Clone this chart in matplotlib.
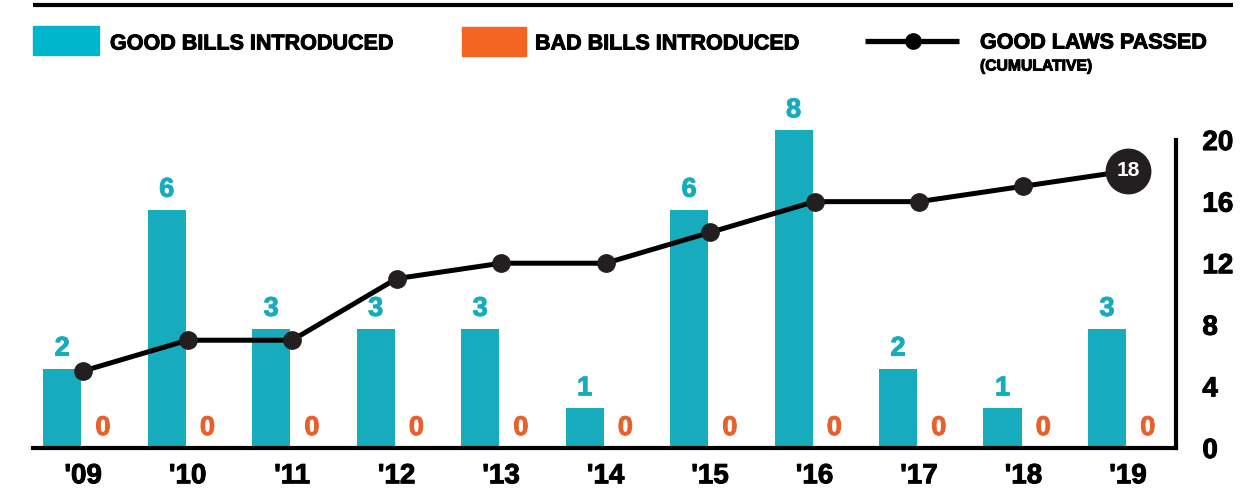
import matplotlib.pyplot as plt
import matplotlib.patheffects as pe
from matplotlib.patches import Rectangle
from matplotlib.lines import Line2D

# data
years = ["'09", "'10", "'11", "'12", "'13", "'14", "'15", "'16", "'17", "'18", "'19"]
good_bills = [2, 6, 3, 3, 3, 1, 6, 8, 2, 1, 3]
bad_bills = [0, 0, 0, 0, 0, 0, 0, 0, 0, 0, 0]
good_laws = [5, 7, 7, 11, 12, 12, 14, 16, 16, 17, 18]

teal = '#17abbe'
teal_legend = '#00b6cc'
orange = '#f26522'
orange_text = '#e8612c'
dark = '#231f20'

plt.rcParams['font.family'] = ['Liberation Sans', 'DejaVu Sans']
plt.rcParams['font.weight'] = 'bold'

W, H = 1246, 488
fig = plt.figure(figsize=(W / 100, H / 100), dpi=100)

def fx(x):
    return x / W

def fy(y):
    return 1 - y / H

# heavier look for the bold text
def heavy(color):
    return [pe.withStroke(linewidth=0.7, foreground=color)]

# axes placed in pixel terms
ax = fig.add_axes([fx(33), fy(448), fx(1176) - fx(33), fy(100) - fy(448)])
ax2 = ax.twinx()

x = list(range(len(years)))
bw = 0.365
ax.bar([i - 0.2 for i in x], good_bills, width=bw, color=teal, zorder=2)
ax.bar([i + 0.2 for i in x], bad_bills, width=bw, color=orange, zorder=2)
ax.set_ylim(0, 8.76)
ax.set_xlim(-0.48, 10.46)

for i, v in enumerate(good_bills):
    ax.annotate(str(v), (i - 0.2, v), xytext=(0, 5), textcoords='offset points',
                ha='center', va='bottom', color=teal, fontsize=19.5, fontweight='bold',
                path_effects=heavy(teal))
for i, v in enumerate(bad_bills):
    ax.annotate(str(v), (i + 0.19, v), xytext=(0, 5), textcoords='offset points',
                ha='center', va='bottom', color=orange_text, fontsize=19.5, fontweight='bold',
                path_effects=heavy(orange_text))

ax2.plot(x, good_laws, color='black', lw=3.6, marker='o', ms=12.5,
         mfc=dark, mec=dark, zorder=5)
ax2.plot(x[-1], good_laws[-1], marker='o', ms=32, color=dark, zorder=6)
ax2.text(x[-1], good_laws[-1], str(good_laws[-1]), color='white', fontsize=15,
         fontweight='bold', ha='center', va='center', zorder=7)
ax2.set_ylim(0, 22.6)
ax2.set_yticks([0, 4, 8, 12, 16, 20])

for a in (ax, ax2):
    for s in ('top', 'left', 'right', 'bottom'):
        a.spines[s].set_visible(False)
ax.spines['bottom'].set_visible(True)
ax.spines['bottom'].set_linewidth(3)
ax.spines['bottom'].set_color('black')
ax2.spines['right'].set_visible(True)
ax2.spines['right'].set_linewidth(3)
ax2.spines['right'].set_bounds(0, 20)

ax.set_yticks([])
ax.set_xticks(x)
ax.set_xticklabels(years, fontsize=20, fontweight='bold')
ax.tick_params(axis='x', length=0, pad=11)
ax2.tick_params(axis='y', length=0, pad=19, labelsize=20)
for t in ax2.get_yticklabels() + ax.get_xticklabels():
    t.set_fontweight('bold')
    t.set_path_effects(heavy('black'))
ax.set_zorder(1)
ax2.set_zorder(2)
ax2.patch.set_visible(False)

# top rule
fig.add_artist(Line2D([fx(33), fx(1233)], [fy(5), fy(5)], color='black', lw=3, solid_capstyle='butt'))

# legend
fig.add_artist(Rectangle((fx(33), fy(55)), fx(99) - fx(33), fy(26) - fy(55), color=teal_legend))
fig.text(fx(110), fy(44), 'GOOD BILLS INTRODUCED', fontsize=15.5, fontweight='bold', va='center',
         path_effects=heavy('black'))
fig.add_artist(Rectangle((fx(462), fy(56)), fx(526) - fx(462), fy(27) - fy(56), color=orange))
fig.text(fx(535), fy(44), 'BAD BILLS INTRODUCED', fontsize=15.5, fontweight='bold', va='center',
         path_effects=heavy('black'))
fig.add_artist(Line2D([fx(865), fx(959)], [fy(41), fy(41)], color='black', lw=3.8, solid_capstyle='butt'))
fig.add_artist(Line2D([fx(913)], [fy(41)], marker='o', ms=11, color='black'))
fig.text(fx(980), fy(43), 'GOOD LAWS PASSED', fontsize=15.5, fontweight='bold', va='center',
         path_effects=heavy('black'))
fig.text(fx(980), fy(66), '(CUMULATIVE)', fontsize=11.3, fontweight='bold', va='center',
         path_effects=heavy('black'))

fig.savefig('out.png', dpi=100)
